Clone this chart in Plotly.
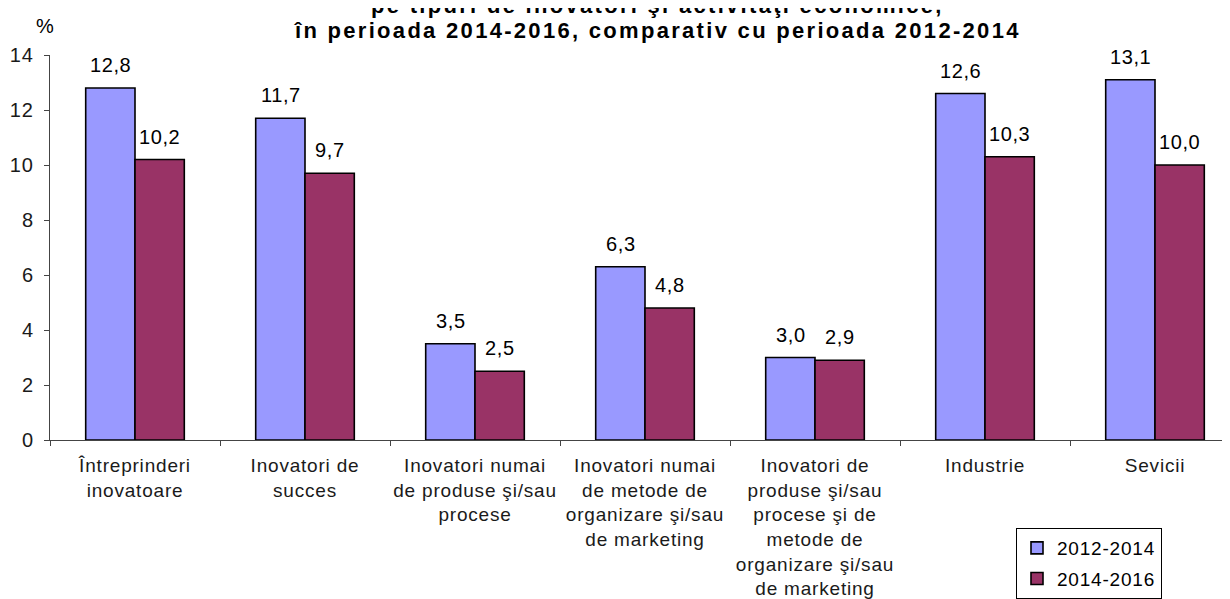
import plotly.graph_objects as go

categories = [
    "Întreprinderi<br>inovatoare",
    "Inovatori de<br>succes",
    "Inovatori numai<br>de produse şi/sau<br>procese",
    "Inovatori numai<br>de metode de<br>organizare şi/sau<br>de marketing",
    "Inovatori de<br>produse şi/sau<br>procese şi de<br>metode de<br>organizare şi/sau<br>de marketing",
    "Industrie",
    "Sevicii",
]
series_names = ["2012-2014", "2014-2016"]
values_2012_2014 = [12.8, 11.7, 3.5, 6.3, 3.0, 12.6, 13.1]
values_2014_2016 = [10.2, 9.7, 2.5, 4.8, 2.9, 10.3, 10.0]
colors = ["#9999FF", "#993366"]
title_lines = [
    "pe tipuri de inovatori şi activităţi economice,",
    "în perioada 2014-2016, comparativ cu perioada 2012-2014",
]
y_ticks = [0, 2, 4, 6, 8, 10, 12, 14]

FONT = "Liberation Sans, Arial, sans-serif"
# page body has an 8px margin; figure coordinates below are page px - 8
OFF = 8
L, T, PW, PH = 50 - OFF, 55 - OFF, 1180, 386
CAT_PX = 170.0  # px per category in the reference


def px_x(x):  # page x -> paper fraction
    return (x - OFF - L) / PW


def px_y(y):  # page y -> paper fraction
    return 1 - (y - OFF - T) / PH


def spaced(s, ls):
    return "<br>".join(
        f'<span style="letter-spacing:{ls}px">{part}</span>' for part in s.split("<br>")
    )


def fmt(v):
    return f"{v:.1f}".replace(".", ",")


fig = go.Figure()
for name, vals, col, grp in zip(series_names, [values_2012_2014, values_2014_2016], colors, ["a", "b"]):
    fig.add_trace(go.Bar(
        x=categories, y=vals, name=spaced(name, 0.8), legendgroup=grp,
        marker=dict(color=col, line=dict(color="black", width=1.6)),
    ))

annotations = []
for vals, shift in [(values_2012_2014, -24.5), (values_2014_2016, 24.5)]:
    for c, v in zip(categories, vals):
        annotations.append(dict(
            x=c, y=v, xref="x", yref="y", text=spaced(fmt(v), 0.6), showarrow=False,
            xshift=shift, yanchor="bottom", yshift=10,
            font=dict(family=FONT, size=20, color="black"),
        ))

annotations.append(dict(
    x=px_x(45), y=px_y(26), xref="paper", yref="paper", text="%",
    showarrow=False, xanchor="center", yanchor="middle",
    font=dict(family=FONT, size=20, color="black"),
))
for line, ypix in zip(title_lines, [5, 30]):
    annotations.append(dict(
        x=px_x(657), y=px_y(ypix), xref="paper", yref="paper",
        text="<b>" + spaced(line, 2.3) + "</b>", showarrow=False,
        xanchor="center", yanchor="middle",
        font=dict(family=FONT, size=22, color="black"),
    ))

fig.update_layout(
    width=1230 - OFF, height=599 - OFF,
    margin=dict(l=L, r=0, t=T, b=599 - OFF - T - PH),
    paper_bgcolor="white", plot_bgcolor="white",
    barmode="group", bargap=0.42, bargroupgap=0,
    font=dict(family=FONT, size=19, color="#1a1a1a"),
    showlegend=True,
    legend=dict(
        x=px_x(1016), y=px_y(529), xanchor="left", yanchor="top",
        bordercolor="black", borderwidth=1, bgcolor="white",
        font=dict(family=FONT, size=19, color="black"),
        tracegroupgap=3, itemwidth=30,
    ),
    annotations=annotations,
)
fig.update_xaxes(
    range=[-0.5, -0.5 + PW / CAT_PX],
    tickvals=categories, ticktext=[spaced(c, 0.8) for c in categories],
    showline=True, linecolor="#444", linewidth=1,
    ticks="outside", tickson="boundaries", ticklen=5, tickcolor="#444",
    ticklabelstandoff=8,
    tickangle=0, tickfont=dict(family=FONT, size=19, color="#1a1a1a"),
    showgrid=False, fixedrange=True,
)
fig.update_yaxes(
    range=[0, 14], tickvals=y_ticks, ticktext=[spaced(str(t), 1) for t in y_ticks],
    showline=True, linecolor="#444", linewidth=1,
    ticks="outside", ticklen=5, tickcolor="#444", showgrid=False, zeroline=False,
    ticklabelstandoff=6,
    tickfont=dict(family=FONT, size=20, color="#1a1a1a"),
)

fig.write_html("out.html")
